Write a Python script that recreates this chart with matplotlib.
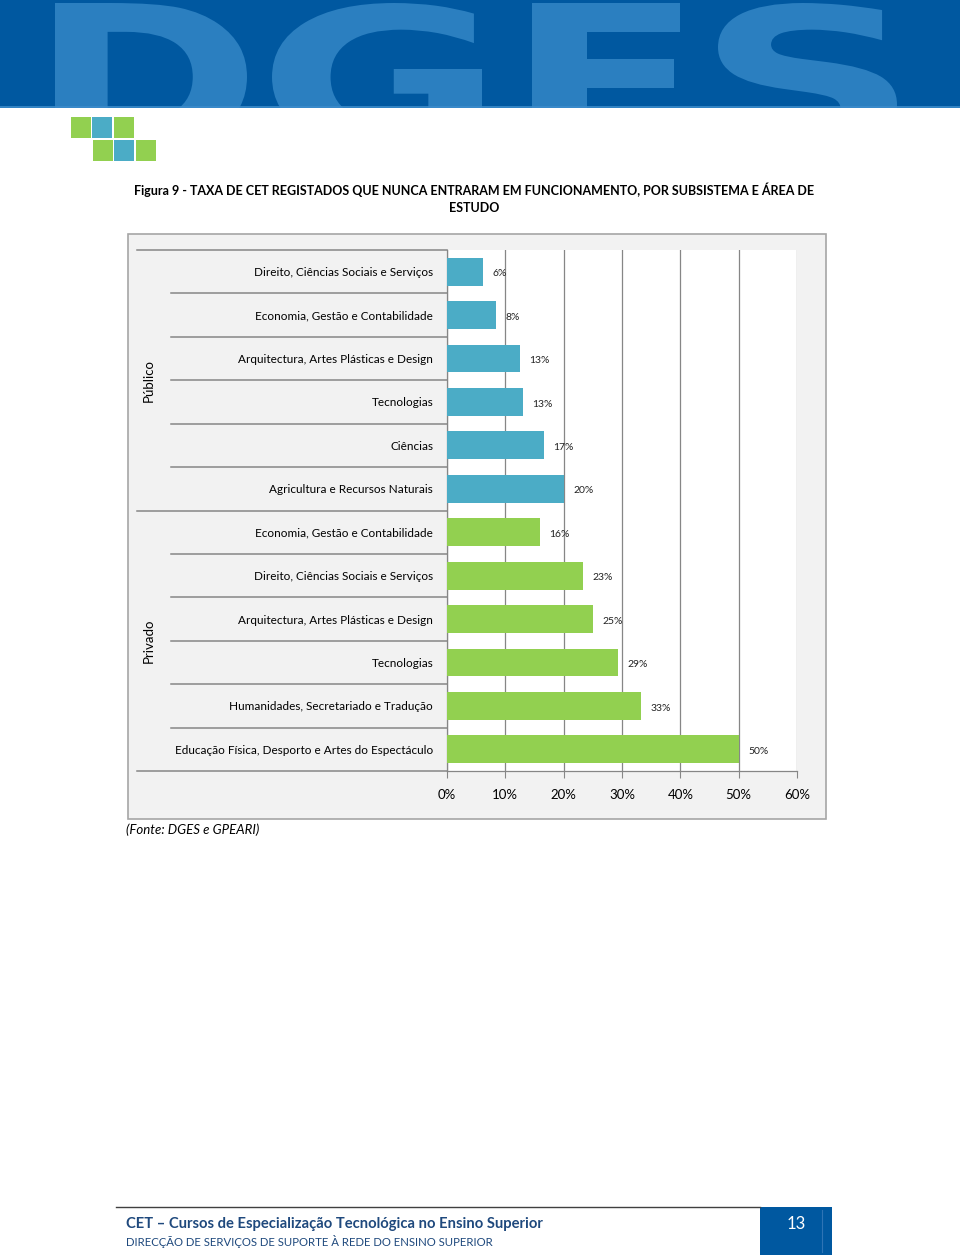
import numpy as np
import matplotlib.pyplot as plt
from matplotlib.patches import Rectangle, PathPatch
from matplotlib.textpath import TextPath
from matplotlib.font_manager import FontProperties
from matplotlib.transforms import Affine2D

# data
publico_areas = [
    "Direito, Ciências Sociais e Serviços",
    "Economia, Gestão e Contabilidade",
    "Arquitectura, Artes Plásticas e Design",
    "Tecnologias",
    "Ciências",
    "Agricultura e Recursos Naturais",
]
publico_vals = [6.2, 8.4, 12.5, 13.0, 16.6, 20.0]
publico_lbls = ["6%", "8%", "13%", "13%", "17%", "20%"]

privado_areas = [
    "Economia, Gestão e Contabilidade",
    "Direito, Ciências Sociais e Serviços",
    "Arquitectura, Artes Plásticas e Design",
    "Tecnologias",
    "Humanidades, Secretariado e Tradução",
    "Educação Física, Desporto e Artes do Espectáculo",
]
privado_vals = [16.0, 23.3, 25.0, 29.3, 33.3, 50.0]
privado_lbls = ["16%", "23%", "25%", "29%", "33%", "50%"]

groups = ["Público", "Privado"]
xticks = [0, 10, 20, 30, 40, 50, 60]

BLUE = "#4BACC6"
GREEN = "#92D050"
DARKBLUE = "#0058A0"
FONT = ["Lato", "DejaVu Sans"]
plt.rcParams["font.family"] = FONT

W, H = 960, 1258
fig = plt.figure(figsize=(W / 100, H / 100), dpi=100)

# page decoration axes in pixel coordinates
deco = fig.add_axes([0, 0, 1, 1])
deco.set_xlim(0, W)
deco.set_ylim(H, 0)
deco.axis("off")

# header band with the cropped, stretched DGES letters
hdr = fig.add_axes([0, (H - 108) / H, 1, 108 / H])
hdr.set_xlim(0, W)
hdr.set_ylim(108, 0)
hdr.axis("off")
hdr.add_patch(Rectangle((0, 0), W, 108, facecolor=DARKBLUE, edgecolor="none"))
hdr.plot([0, W], [107, 107], color="#3D8CCB", lw=1.2)
fp = FontProperties(family="DejaVu Sans", weight="bold")
letter_box = [("D", 55, 247), ("G", 272, 482), ("E", 532, 683), ("S", 718, 897)]
cap_h = 148
for ch, x0, x1 in letter_box:
    tp = TextPath((0, 0), ch, size=1, prop=fp)
    bb = tp.get_extents()
    tf = (Affine2D().translate(-bb.x0, -bb.y1)
          .scale((x1 - x0) / bb.width, -cap_h / bb.height)
          .translate(x0, 3))
    hdr.add_patch(PathPatch(tf.transform_path(tp), facecolor="#2B7FC0",
                            edgecolor="none", clip_on=True))

# small logo squares
squares = [(71, 117, GREEN), (92, 117, BLUE), (114, 117, GREEN),
           (93, 140, GREEN), (114, 140, BLUE), (136, 140, GREEN)]
for x, y, c in squares:
    deco.add_patch(Rectangle((x, y), 20, 21, facecolor=c, edgecolor="none"))

# title
deco.text(474, 190, "Figura 9 - TAXA DE CET REGISTADOS QUE NUNCA ENTRARAM EM FUNCIONAMENTO, POR SUBSISTEMA E ÁREA DE",
          ha="center", va="center", fontsize=9.0, fontweight="bold", color="black")
deco.text(474, 208, "ESTUDO", ha="center", va="center", fontsize=9.0,
          fontweight="bold", color="black")

# chart background box
deco.add_patch(Rectangle((127.5, 233.5), 698, 585, facecolor="#F2F2F2",
                         edgecolor="#A6A6A6", lw=1.2))

deco.text(126, 830, "(Fonte: DGES e GPEARI)", ha="left", va="center",
          fontsize=9.5, style="italic", color="black")

# footer
deco.plot([116, 760], [1207, 1207], color="#404040", lw=1)
deco.add_patch(Rectangle((760, 1207), 72, 48, facecolor=DARKBLUE, edgecolor="none"))
deco.plot([822, 822], [1210, 1252], color="#2E74B5", lw=0.8)
deco.text(796, 1224, "13", ha="center", va="center", fontsize=12, color="white")
deco.text(126, 1224, "CET \u2013 Cursos de Especialização Tecnológica no Ensino Superior",
          ha="left", va="center", fontsize=10.6, fontweight="bold", color="#1F497D")
deco.text(126, 1241, "DIRECÇÃO DE SERVIÇOS DE SUPORTE À REDE DO ENSINO SUPERIOR",
          ha="left", va="center", fontsize=8.2, color="#1F497D")

# chart axes
left, right, top, bottom = 447, 797, 250, 771
ax = fig.add_axes([left / W, (H - bottom) / H, (right - left) / W, (bottom - top) / H])
ax.set_facecolor("white")

areas = publico_areas + privado_areas
vals = publico_vals + privado_vals
lbls = publico_lbls + privado_lbls
colors = [BLUE] * len(publico_vals) + [GREEN] * len(privado_vals)
ypos = np.arange(len(areas))

ax.barh(ypos, vals, height=0.64, color=colors, zorder=3)
for y, v, s in zip(ypos, vals, lbls):
    ax.text(v + 1.6, y + 0.05, s, ha="left", va="center", fontsize=7.5, color="#222222")

ax.set_xlim(0, 60)
ax.set_ylim(len(areas) - 0.5, -0.5)
ax.set_xticks(xticks)
ax.set_xticklabels([f"{t}%" for t in xticks], fontsize=9.5)
ax.set_yticks(ypos)
ax.set_yticklabels(areas, fontsize=8.5)
ax.tick_params(axis="y", length=0, pad=10)
ax.tick_params(axis="x", length=5, color="#868686", pad=8, direction="out")
ax.grid(axis="x", color="#868686", lw=0.9, zorder=0)

for side in ["top", "right"]:
    ax.spines[side].set_visible(False)
for side in ["left", "bottom"]:
    ax.spines[side].set_color("#868686")
    ax.spines[side].set_linewidth(0.9)

# category separators and group brackets
tr = ax.get_yaxis_transform()
n_pub = len(publico_areas)
for i in range(len(areas) + 1):
    x0 = -0.886 if i in (0, n_pub, len(areas)) else -0.789
    ax.plot([x0, 0], [i - 0.5, i - 0.5], transform=tr, color="#868686",
            lw=1.1, clip_on=False)

for g, c in zip(groups, [(n_pub - 1) / 2, n_pub + (len(privado_areas) - 1) / 2]):
    ax.text(-0.851, c, g, transform=tr, rotation=90, ha="center", va="center",
            fontsize=9.5, color="black")

fig.savefig("out.png", dpi=100)
